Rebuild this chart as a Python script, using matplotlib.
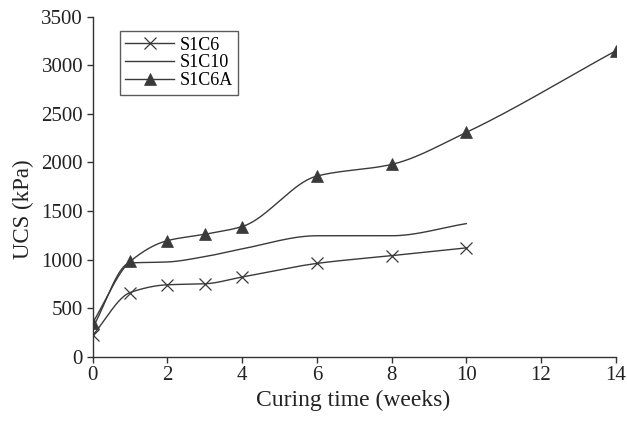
import numpy as np
import matplotlib
matplotlib.use("Agg")
import matplotlib.pyplot as plt
from matplotlib.lines import Line2D

plt.rcParams['font.family'] = ['Liberation Serif', 'DejaVu Serif']

weeks = [0, 1, 2, 3, 4, 6, 8, 10]
weeks_a = [0, 1, 2, 3, 4, 6, 8, 10, 14]
s1c6 = [220, 660, 740, 750, 820, 960, 1040, 1120]
s1c10 = [300, 965, 975, 1030, 1110, 1245, 1245, 1370]
s1c6a = [350, 980, 1195, 1260, 1340, 1860, 1980, 2310, 3150]
xticks = [0, 2, 4, 6, 8, 10, 12, 14]
yticks = [0, 500, 1000, 1500, 2000, 2500, 3000, 3500]


def pchip(x, y, n=40):
    x = np.asarray(x, float); y = np.asarray(y, float)
    h = np.diff(x); d = np.diff(y) / h
    m = np.zeros_like(y)
    for k in range(1, len(x) - 1):
        if d[k - 1] * d[k] > 0:
            w1 = 2 * h[k] + h[k - 1]; w2 = h[k] + 2 * h[k - 1]
            m[k] = (w1 + w2) / (w1 / d[k - 1] + w2 / d[k])
    m[0] = d[0]; m[-1] = d[-1]
    xs, ys = [], []
    for k in range(len(x) - 1):
        t = np.linspace(0, 1, n, endpoint=False)
        h00 = 2*t**3 - 3*t**2 + 1; h10 = t**3 - 2*t**2 + t
        h01 = -2*t**3 + 3*t**2; h11 = t**3 - t**2
        xs.append(x[k] + t*h[k])
        ys.append(h00*y[k] + h10*h[k]*m[k] + h01*y[k+1] + h11*h[k]*m[k+1])
    xs.append([x[-1]]); ys.append([y[-1]])
    return np.concatenate(xs), np.concatenate(ys)


fig = plt.figure(figsize=(6.27, 4.22), dpi=100)
ax = fig.add_axes([0.148, 0.155, 0.834, 0.805])
col = '#3a3a3a'

for xv, yv, mk, ms in [(weeks, s1c6, 'x', 8),
                       (weeks, s1c10, None, 0),
                       (weeks_a, s1c6a, '^', 8)]:
    sx, sy = pchip(xv, yv)
    ax.plot(sx, sy, color=col, lw=1.0)
    if mk:
        ax.plot(xv, yv, linestyle='none', marker=mk, color=col, ms=ms,
                mew=0.9 if mk == 'x' else 0.5)

handles = [Line2D([], [], color=col, lw=1.0, marker='x', ms=8, mew=0.9),
           Line2D([], [], color=col, lw=1.0),
           Line2D([], [], color=col, lw=1.0, marker='^', ms=8, mew=0.5)]
leg = ax.legend(handles, ['S1C6', 'S1C10', 'S1C6A'], loc='upper left',
                bbox_to_anchor=(0.052, 0.958), fontsize=13, frameon=True,
                fancybox=False, edgecolor='#333333', handlelength=2.7,
                borderpad=0.3, labelspacing=0.05, handletextpad=0.3,
                borderaxespad=0)
leg.get_frame().set_linewidth(1.0)

ax.set_xlim(0, 14)
ax.set_ylim(0, 3500)
ax.set_xticks(xticks)
ax.set_yticks(yticks)
ax.spines['top'].set_visible(False)
ax.spines['right'].set_visible(False)
for s in ['left', 'bottom']:
    ax.spines[s].set_color('#333333')
    ax.spines[s].set_linewidth(1.0)
ax.tick_params(direction='out', length=4, width=1, color='#333333',
               labelsize=15, labelcolor='#222222', pad=3)
ax.set_xlabel('Curing time (weeks)', fontsize=17, color='#222222')
ax.set_ylabel('UCS (kPa)', fontsize=16.5, color='#222222')
ax.xaxis.set_label_coords(0.498, -0.098)
ax.yaxis.set_label_coords(-0.113, 0.435)

fig.savefig('out.png', dpi=100)
